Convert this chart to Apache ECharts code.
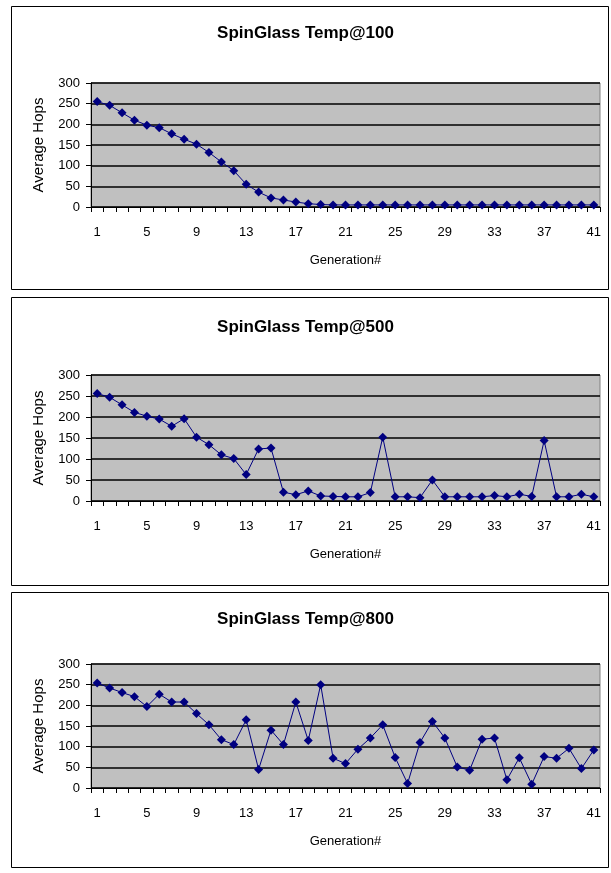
<!DOCTYPE html>
<html>
<head>
<meta charset="utf-8">
<script src="https://cdn.jsdelivr.net/npm/echarts@6/dist/echarts.min.js"></script>
<style>
html,body{margin:0;padding:0;background:#fff;}
#c{width:611px;height:873px;}
</style>
</head>
<body>
<div id="c"></div>
<script>
const generations = Array.from({length: 41}, (_, i) => String(i + 1));
const titles = ['SpinGlass Temp@100', 'SpinGlass Temp@500', 'SpinGlass Temp@800'];
const yTicks = [0, 50, 100, 150, 200, 250, 300];

const temp100 = [255, 246, 228, 210, 198, 192, 177, 164, 152, 132, 109, 88, 55, 36, 22, 17, 12, 8, 6, 5,
  5, 5, 5, 5, 5, 5, 5, 5, 5, 5, 5, 5, 5, 5, 5, 5, 5, 5, 5, 5, 5];
const temp500 = [256, 247, 229, 211, 202, 195, 178, 196, 152, 134, 110, 101, 63, 124, 126, 21, 15, 24, 12, 11,
  10, 10, 20, 152, 10, 10, 8, 50, 10, 10, 10, 10, 13, 10, 16, 11, 144, 10, 10, 16, 10];
const temp800 = [254, 242, 231, 221, 197, 227, 208, 208, 180, 153, 117, 105, 165, 45, 140, 105, 208, 115, 250, 72,
  59, 94, 121, 153, 74, 11, 110, 161, 121, 51, 43, 118, 121, 20, 73, 9, 76, 72, 96, 47, 92];
const seriesData = [temp100, temp500, temp800];

// panel layout (pixels)
const panels = [
  {boxTop: 6, boxBottom: 289, plotTop: 83, plotBottom: 207, titleTop: 20},
  {boxTop: 297, boxBottom: 585, plotTop: 375, plotBottom: 501, titleTop: 314},
  {boxTop: 592, boxBottom: 867, plotTop: 664, plotBottom: 788, titleTop: 606}
];
const plotLeft = 91, plotRight = 600, boxLeft = 11, boxRight = 608;
const FONT = '"Liberation Sans", Arial, sans-serif';

const chart = echarts.init(document.getElementById('c'), null, {renderer: 'canvas'});

const option = {
  backgroundColor: '#fff',
  animation: false,
  title: panels.map((p, i) => ({
    text: titles[i],
    left: 'center',
    top: p.titleTop,
    textStyle: {fontFamily: FONT, fontSize: 17, fontWeight: 'bold', color: '#000'}
  })),
  graphic: panels.map(p => ({
    type: 'rect',
    shape: {x: boxLeft + 0.5, y: p.boxTop + 0.5, width: boxRight - boxLeft, height: p.boxBottom - p.boxTop},
    style: {fill: null, stroke: '#000', lineWidth: 1},
    z: 0
  })),
  grid: panels.map(p => ({
    left: plotLeft,
    top: p.plotTop,
    width: plotRight - plotLeft,
    height: p.plotBottom - p.plotTop,
    show: true,
    backgroundColor: '#c0c0c0',
    borderColor: '#808080',
    borderWidth: 1
  })),
  xAxis: panels.map((p, i) => ({
    type: 'category',
    gridIndex: i,
    data: generations,
    boundaryGap: true,
    name: 'Generation#',
    nameLocation: 'middle',
    nameGap: 47,
    nameTextStyle: {fontFamily: FONT, fontSize: 13, color: '#000'},
    axisLine: {show: true, lineStyle: {color: '#000', width: 1}},
    axisTick: {show: true, interval: 0, length: 5, lineStyle: {color: '#000'}},
    axisLabel: {interval: 3, fontFamily: FONT, fontSize: 13, color: '#000', margin: 19},
    splitLine: {show: false}
  })),
  yAxis: panels.map((p, i) => ({
    type: 'value',
    gridIndex: i,
    min: yTicks[0],
    max: yTicks[yTicks.length - 1],
    interval: 50,
    name: 'Average Hops',
    nameLocation: 'middle',
    nameGap: 45,
    nameTextStyle: {fontFamily: FONT, fontSize: 15, color: '#000'},
    axisLine: {show: true, lineStyle: {color: '#000', width: 1}},
    axisTick: {show: true, length: 5, lineStyle: {color: '#000'}},
    axisLabel: {fontFamily: FONT, fontSize: 13, color: '#000', margin: 11},
    splitLine: {show: true, lineStyle: {color: '#000', width: 1.6}}
  })),
  series: seriesData.map((d, i) => ({
    type: 'line',
    xAxisIndex: i,
    yAxisIndex: i,
    data: d,
    symbol: 'diamond',
    symbolSize: 9,
    showAllSymbol: true,
    lineStyle: {color: '#000080', width: 1},
    itemStyle: {color: '#000080'},
    z: 5
  }))
};
chart.setOption(option);
</script>
</body>
</html>
